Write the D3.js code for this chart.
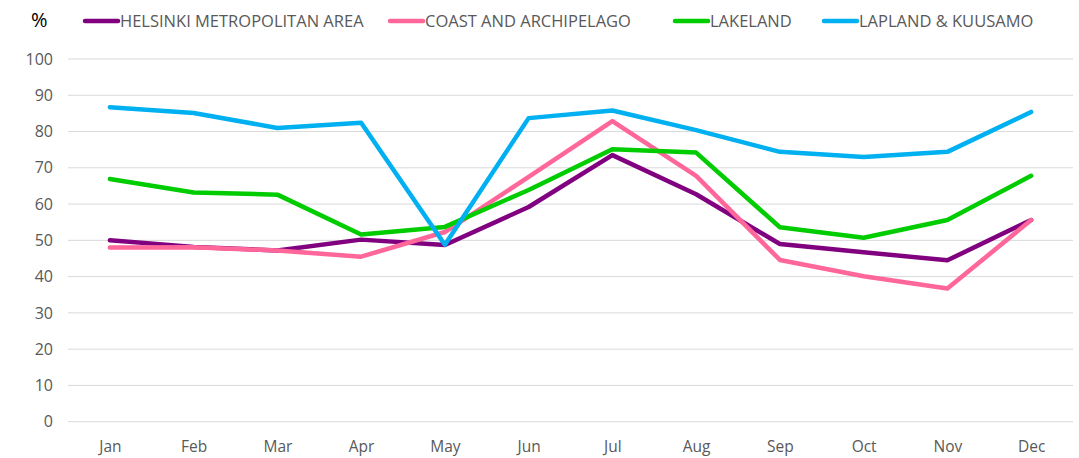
<!DOCTYPE html>
<html>
<head>
<meta charset="utf-8">
<script src="https://cdn.jsdelivr.net/npm/d3@7"></script>
<style>
  html, body { margin: 0; padding: 0; background: #fff; }
  svg { display: block; }
  text { font-family: "Open Sans", "Liberation Sans", sans-serif; }
</style>
</head>
<body>
<svg id="chart" width="1079" height="458"></svg>
<script>
// Monthly occupancy rate (%) by region
const months = ["Jan","Feb","Mar","Apr","May","Jun","Jul","Aug","Sep","Oct","Nov","Dec"];
const yTicks = [0,10,20,30,40,50,60,70,80,90,100];

const helsinki = [50.0, 48.2, 47.2, 50.2, 48.7, 59.2, 73.5, 62.7, 49.0, 46.7, 44.5, 55.6];
const coast    = [48.0, 48.1, 47.2, 45.5, 52.3, 67.5, 82.9, 67.8, 44.6, 40.1, 36.7, 55.6];
const lakeland = [66.9, 63.2, 62.6, 51.6, 53.7, 63.9, 75.1, 74.2, 53.6, 50.7, 55.6, 67.8];
const lapland  = [86.7, 85.1, 81.0, 82.4, 48.8, 83.7, 85.8, 80.4, 74.4, 73.0, 74.4, 85.4];

const seriesNames  = ["HELSINKI METROPOLITAN AREA", "COAST AND ARCHIPELAGO", "LAKELAND", "LAPLAND & KUUSAMO"];
const seriesValues = [helsinki, coast, lakeland, lapland];
const seriesColors = ["#800080", "#FF6699", "#00CC00", "#00B0F0"];

const svg = d3.select("#chart");
const margin = { left: 68, right: 1073, top: 59, bottom: 421.7 };

const x = d3.scalePoint().domain(months).range([margin.left, margin.right]).padding(0.5);
const y = d3.scaleLinear().domain([0, 100]).range([margin.bottom, margin.top]);

// Horizontal gridlines
svg.append("g")
  .selectAll("line")
  .data(yTicks)
  .join("line")
  .attr("x1", margin.left)
  .attr("x2", margin.right)
  .attr("y1", d => y(d))
  .attr("y2", d => y(d))
  .attr("stroke", "#d9d9d9")
  .attr("stroke-width", 1);

// Y axis labels
const yAxis = d3.axisLeft(y).tickValues(yTicks).tickSize(0).tickPadding(0);
svg.append("g")
  .attr("transform", `translate(${margin.left - 15},0)`)
  .call(yAxis)
  .call(g => g.select(".domain").remove())
  .call(g => g.selectAll("text")
    .attr("fill", "#595959")
    .style("font-size", "16px")
    .style("font-family", "'Open Sans', sans-serif"));

// X axis labels
const xAxis = d3.axisBottom(x).tickSize(0).tickPadding(0);
svg.append("g")
  .attr("transform", `translate(0,${margin.bottom + 19})`)
  .call(xAxis)
  .call(g => g.select(".domain").remove())
  .call(g => g.selectAll("text")
    .attr("fill", "#595959")
    .style("font-size", "15.5px")
    .style("font-family", "'Open Sans', sans-serif"));

// Lines
const line = d3.line()
  .x((d, i) => x(months[i]))
  .y(d => y(d));

svg.append("g")
  .selectAll("path")
  .data(seriesValues)
  .join("path")
  .attr("d", d => line(d))
  .attr("fill", "none")
  .attr("stroke", (d, i) => seriesColors[i])
  .attr("stroke-width", 4.5)
  .attr("stroke-linejoin", "round")
  .attr("stroke-linecap", "round");

// Unit label
svg.append("text")
  .attr("x", 31)
  .attr("y", 27)
  .attr("fill", "#000")
  .style("font-size", "20px")
  .text("%");

// Legend
const legendX = [83, 388, 673, 822];
const legend = svg.append("g")
  .selectAll("g")
  .data(seriesNames)
  .join("g")
  .attr("transform", (d, i) => `translate(${legendX[i]},21)`);

legend.append("line")
  .attr("x1", 2).attr("x2", 35)
  .attr("y1", 0).attr("y2", 0)
  .attr("stroke", (d, i) => seriesColors[i])
  .attr("stroke-width", 4.5)
  .attr("stroke-linecap", "round");

legend.append("text")
  .attr("x", 37)
  .attr("y", 0)
  .attr("dy", "0.35em")
  .attr("fill", "#595959")
  .style("font-size", "16.5px")
  .text(d => d);
</script>
</body>
</html>
